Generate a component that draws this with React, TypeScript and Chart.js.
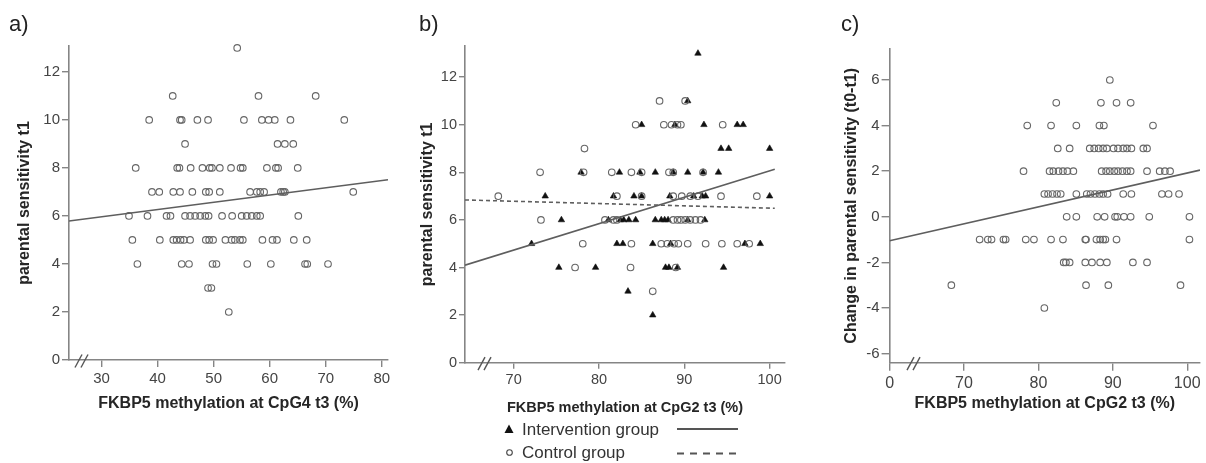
import React, { useEffect, useRef } from "react";
import { Chart, registerables } from "chart.js";

Chart.register(...registerables);

const FONT = "'Liberation Sans', Arial, sans-serif";
const AXIS = "#858585";
const TICK_TEXT = "#444444";
const TITLE_TEXT = "#262626";

// ---------- Panel a ----------
const aTicksX = [30, 40, 50, 60, 70, 80];
const aTickLabelsX = ["30", "40", "50", "60", "70", "80"];
const aTicksY = [0, 2, 4, 6, 8, 10, 12];
const aTickLabelsY = ["0", "2", "4", "6", "8", "10", "12"];
const aLevels = [13, 11, 10, 9, 8, 7, 6, 5, 4, 3, 2];
const aXByLevel = [
  [54.2],
  [42.7, 58.0, 68.2],
  [38.5, 44.0, 44.3, 47.1, 49.0, 55.4, 58.6, 59.8, 60.9, 63.7, 73.3],
  [44.9, 61.4, 62.7, 64.2],
  [36.1, 43.5, 43.9, 45.9, 48.0, 49.3, 49.7, 51.1, 53.1, 54.8, 55.2, 59.5, 61.1, 61.5, 65.0],
  [39.0, 40.3, 42.8, 44.0, 46.2, 48.6, 49.2, 51.1, 56.5, 57.7, 58.3, 59.0, 62.0, 62.4, 62.7, 74.9],
  [34.9, 38.2, 41.6, 42.3, 44.9, 45.8, 46.7, 47.6, 48.5, 49.1, 51.5, 53.3, 55.0, 55.9, 56.8, 57.7, 58.3, 65.1],
  [35.5, 40.4, 42.8, 43.4, 44.1, 44.7, 45.8, 48.6, 49.2, 49.9, 52.1, 53.2, 53.8, 54.7, 55.2, 58.7, 60.5, 61.3, 64.3, 66.6],
  [36.4, 44.3, 45.6, 49.8, 50.5, 56.0, 60.2, 66.3, 66.7, 70.4],
  [49.0, 49.6],
  [52.7],
];
const aFitX = [24.2, 81.1];
const aFitY = [5.79, 7.51];

// ---------- Panel b ----------
const bTicksX = [70, 80, 90, 100];
const bTickLabelsX = ["70", "80", "90", "100"];
const bTicksY = [0, 2, 4, 6, 8, 10, 12];
const bTickLabelsY = ["0", "2", "4", "6", "8", "10", "12"];
const bIntLevels = [13, 11, 10, 9, 8, 7, 6, 5, 4, 3, 2];
const bIntXByLevel = [
  [91.6],
  [90.4],
  [85.0, 88.9, 92.3, 96.2, 96.9],
  [94.3, 95.2, 100.0],
  [77.9, 82.4, 84.8, 86.6, 88.7, 90.4, 92.2, 94.0],
  [73.7, 81.7, 84.1, 85.0, 88.3, 91.1, 92.1, 92.5, 100.0],
  [75.6, 81.1, 82.5, 82.9, 83.5, 84.3, 86.6, 87.3, 87.7, 88.1, 90.4, 92.4],
  [72.1, 82.1, 82.8, 86.3, 88.4, 97.1, 98.9],
  [75.3, 79.6, 87.8, 88.2, 89.2, 94.6],
  [83.4],
  [86.3],
];
const bCtlLevels = [11, 10, 9, 8, 7, 6, 5, 4, 3];
const bCtlXByLevel = [
  [87.1, 90.1],
  [84.3, 87.6, 88.5, 89.2, 89.6, 94.5],
  [78.3],
  [73.1, 78.2, 81.5, 83.8, 85.0, 88.2, 88.7, 92.2],
  [68.2, 82.1, 85.0, 88.7, 89.7, 90.7, 91.6, 94.3, 98.5],
  [73.2, 80.7, 81.7, 82.1, 88.7, 89.2, 89.6, 90.1, 90.7, 91.3, 91.9],
  [78.1, 83.8, 87.3, 88.0, 88.8, 89.3, 90.4, 92.5, 94.4, 96.2, 97.6],
  [77.2, 83.7, 89.0],
  [86.3],
];
const bIntFitX = [64.3, 100.6];
const bIntFitY = [4.1, 8.13];
const bCtlFitX = [64.3, 100.6];
const bCtlFitY = [6.84, 6.49];
const bLegendLabels = ["Intervention group", "Control group"];

// ---------- Panel c ----------
const cTicksX = [60, 70, 80, 90, 100];
const cTickLabelsX = ["0", "70", "80", "90", "100"];
const cTicksY = [-6, -4, -2, 0, 2, 4, 6];
const cTickLabelsY = ["-6", "-4", "-2", "0", "2", "4", "6"];
const cLevels = [6, 5, 4, 3, 2, 1, 0, -1, -2, -3, -4];
const cXByLevel = [
  [89.6],
  [82.4, 88.4, 90.5, 92.4],
  [78.5, 81.7, 85.1, 88.2, 88.8, 95.4],
  [82.6, 84.2, 86.9, 87.5, 88.1, 88.7, 89.2, 90.1, 90.7, 91.4, 91.9, 92.5, 94.1, 94.6],
  [78.0, 81.5, 82.0, 82.7, 83.3, 83.9, 84.7, 88.5, 89.1, 89.6, 90.2, 90.7, 91.3, 91.9, 92.4, 94.6, 96.3, 97.0, 97.7],
  [80.8, 81.3, 81.9, 82.5, 83.0, 85.1, 86.5, 87.0, 87.6, 88.2, 88.7, 89.3, 91.4, 92.5, 96.6, 97.5, 98.9],
  [83.8, 85.1, 87.9, 88.9, 90.3, 90.6, 91.5, 92.4, 94.9, 100.3],
  [72.1, 73.2, 73.7, 75.3, 75.6, 78.3, 79.4, 81.7, 83.3, 86.3, 86.4, 87.8, 88.3, 88.7, 89.0, 90.5, 100.3],
  [83.4, 83.7, 84.2, 86.3, 87.2, 88.3, 89.2, 92.7, 94.6],
  [68.3, 86.4, 89.4, 99.1],
  [80.8],
];
const cFitX = [60, 101.72];
const cFitY = [-1.05, 2.05];

// ---------- helpers ----------
const rowsToPoints = (levels: number[], xsByLevel: number[][]) =>
  levels.flatMap((y, i) => xsByLevel[i].map((x) => ({ x, y })));
const pairPoints = (xs: number[], ys: number[]) => xs.map((x, i) => ({ x, y: ys[i] }));

function makeScale(o: any) {
  const horizontal = o.horizontal;
  return {
    type: "linear",
    min: o.min,
    max: o.max,
    afterBuildTicks: (s: any) => {
      s.ticks = o.ticks.map((v: number) => ({ value: v }));
    },
    afterFit: (s: any) => {
      if (horizontal) s.height = o.size;
      else s.width = o.size;
      s.paddingLeft = 0;
      s.paddingRight = 0;
      s.paddingTop = 0;
      s.paddingBottom = 0;
    },
    ticks: {
      callback: (_v: any, i: number) => o.labels[i],
      font: { family: FONT, size: o.fontSize },
      color: TICK_TEXT,
      padding: o.padding,
      autoSkip: false,
      maxRotation: 0,
      minRotation: 0,
    },
    grid: {
      display: true,
      drawOnChartArea: false,
      drawTicks: true,
      tickLength: o.tickLength,
      color: AXIS,
      lineWidth: 1.4,
    },
    border: { display: true, color: AXIS, width: 1.6 },
    title: {
      display: true,
      text: o.title,
      font: { family: FONT, size: o.titleSize, weight: "bold" },
      color: TITLE_TEXT,
      padding: horizontal ? { top: 0, bottom: o.titlePad } : { top: o.titlePad, bottom: 0 },
    },
  };
}

const circleStyle = {
  pointStyle: "circle",
  pointRadius: 3.3,
  pointBorderWidth: 1.1,
  pointBorderColor: "#666666",
  pointBackgroundColor: "rgba(0,0,0,0)",
  showLine: false,
  clip: false,
};
const triangleStyle = {
  pointStyle: "triangle",
  pointRadius: 3.7,
  pointBorderWidth: 0.6,
  pointBorderColor: "#111",
  pointBackgroundColor: "#111",
  showLine: false,
  clip: false,
};

function fitLine(xs: number[], ys: number[], dash: number[] = []) {
  return {
    type: "line",
    data: pairPoints(xs, ys),
    borderColor: "#5e5e5e",
    borderWidth: 1.6,
    borderDash: dash,
    pointRadius: 0,
    fill: false,
    tension: 0,
    order: -1,
  };
}

function decor(cfg: any) {
  return {
    id: "decor",
    afterDraw(chart: any) {
      const ctx = chart.ctx;
      const b = chart.chartArea.bottom;
      ctx.save();
      ctx.font = `22px ${FONT}`;
      ctx.fillStyle = "#222";
      ctx.textAlign = "left";
      ctx.textBaseline = "alphabetic";
      ctx.fillText(cfg.label, cfg.labelX, 31);
      ctx.strokeStyle = "#555";
      ctx.lineWidth = 1.4;
      for (const dx of [0, 6]) {
        ctx.beginPath();
        ctx.moveTo(cfg.breakX + dx, b + 7.5);
        ctx.lineTo(cfg.breakX + dx + 7, b - 5.5);
        ctx.stroke();
      }
      if (cfg.extra) cfg.extra(ctx);
      ctx.restore();
    },
  };
}

function drawLegendB(ctx: CanvasRenderingContext2D) {
  ctx.fillStyle = "#111";
  ctx.beginPath();
  ctx.moveTo(109, 424.5);
  ctx.lineTo(113.5, 433);
  ctx.lineTo(104.5, 433);
  ctx.closePath();
  ctx.fill();
  ctx.strokeStyle = "#444";
  ctx.lineWidth = 1.1;
  ctx.beginPath();
  ctx.arc(109.5, 452.5, 2.8, 0, Math.PI * 2);
  ctx.stroke();
  ctx.font = `17px ${FONT}`;
  ctx.fillStyle = "#333";
  ctx.textBaseline = "middle";
  ctx.fillText(bLegendLabels[0], 122, 430);
  ctx.fillText(bLegendLabels[1], 122, 453);
  ctx.strokeStyle = "#555";
  ctx.lineWidth = 2;
  ctx.beginPath();
  ctx.moveTo(277, 429);
  ctx.lineTo(338, 429);
  ctx.stroke();
  ctx.setLineDash([7, 6]);
  ctx.beginPath();
  ctx.moveTo(277, 453.5);
  ctx.lineTo(338, 453.5);
  ctx.stroke();
  ctx.setLineDash([]);
}

function baseOptions(padding: any, x: any, y: any) {
  return {
    responsive: false,
    animation: false,
    events: [],
    layout: { padding },
    plugins: {
      legend: { display: false },
      tooltip: { enabled: false },
      title: { display: false },
    },
    scales: { x, y },
  };
}

function configA() {
  return {
    type: "scatter",
    data: {
      datasets: [
        { data: rowsToPoints(aLevels, aXByLevel), ...circleStyle },
        fitLine(aFitX, aFitY),
      ],
    },
    options: baseOptions(
      { left: 15, right: 12, top: 46, bottom: 0 },
      makeScale({
        horizontal: true, min: 24.2, max: 81.1, ticks: aTicksX, labels: aTickLabelsX,
        size: 103, fontSize: 15, padding: 3, tickLength: 7,
        title: "FKBP5 methylation at CpG4 t3 (%)", titleSize: 16, titlePad: 49.4,
      }),
      makeScale({
        horizontal: false, min: 0, max: 13.08, ticks: aTicksY, labels: aTickLabelsY,
        size: 54, fontSize: 15, padding: 2, tickLength: 7,
        title: "parental sensitivity t1", titleSize: 16, titlePad: 0,
      })
    ),
    plugins: [decor({ label: "a)", labelX: 9, breakX: 75 })],
  };
}

function configB() {
  return {
    type: "scatter",
    data: {
      datasets: [
        { data: rowsToPoints(bCtlLevels, bCtlXByLevel), ...circleStyle },
        { data: rowsToPoints(bIntLevels, bIntXByLevel), ...triangleStyle },
        fitLine(bIntFitX, bIntFitY),
        fitLine(bCtlFitX, bCtlFitY, [4, 3]),
      ],
    },
    options: baseOptions(
      { left: 18, right: 15, top: 46, bottom: 0 },
      makeScale({
        horizontal: true, min: 64.3, max: 101.8, ticks: bTicksX, labels: bTickLabelsX,
        size: 100.3, fontSize: 14.5, padding: 3, tickLength: 6,
        title: "FKBP5 methylation at CpG2 t3 (%)", titleSize: 14.5, titlePad: 46.8,
      }),
      makeScale({
        horizontal: false, min: 0, max: 13.31, ticks: bTicksY, labels: bTickLabelsY,
        size: 47, fontSize: 14.5, padding: 2, tickLength: 6,
        title: "parental sensitivity t1", titleSize: 16, titlePad: 0,
      })
    ),
    plugins: [decor({ label: "b)", labelX: 19, breakX: 78, extra: drawLegendB })],
  };
}

function configC() {
  return {
    type: "scatter",
    data: {
      datasets: [
        { data: rowsToPoints(cLevels, cXByLevel), ...circleStyle },
        fitLine(cFitX, cFitY),
      ],
    },
    options: baseOptions(
      { left: 42, right: 6, top: 49, bottom: 0 },
      makeScale({
        horizontal: true, min: 60, max: 101.72, ticks: cTicksX, labels: cTickLabelsX,
        size: 100.3, fontSize: 16, padding: 3, tickLength: 8,
        title: "FKBP5 methylation at CpG2 t3 (%)", titleSize: 16, titlePad: 49.4,
      }),
      makeScale({
        horizontal: false, min: -6.4, max: 7.36, ticks: cTicksY, labels: cTickLabelsY,
        size: 47.6, fontSize: 15, padding: 2, tickLength: 8,
        title: "Change in parental sensitivity (t0-t1)", titleSize: 16, titlePad: 0,
      })
    ),
    plugins: [decor({ label: "c)", labelX: 41, breakX: 107 })],
  };
}

function Panel({ left, width, build }: { left: number; width: number; build: () => any }) {
  const ref = useRef<HTMLCanvasElement>(null);
  useEffect(() => {
    const chart = new Chart(ref.current as HTMLCanvasElement, build());
    return () => chart.destroy();
  }, []);
  return (
    <canvas
      ref={ref}
      width={width}
      height={463}
      style={{ position: "absolute", left, top: 0, width, height: 463 }}
    />
  );
}

export default function App() {
  return (
    <div style={{ position: "absolute", left: 0, top: 0, width: 1206, height: 463, background: "#fff" }}>
      <Panel left={0} width={400} build={configA} />
      <Panel left={400} width={400} build={configB} />
      <Panel left={800} width={406} build={configC} />
    </div>
  );
}
